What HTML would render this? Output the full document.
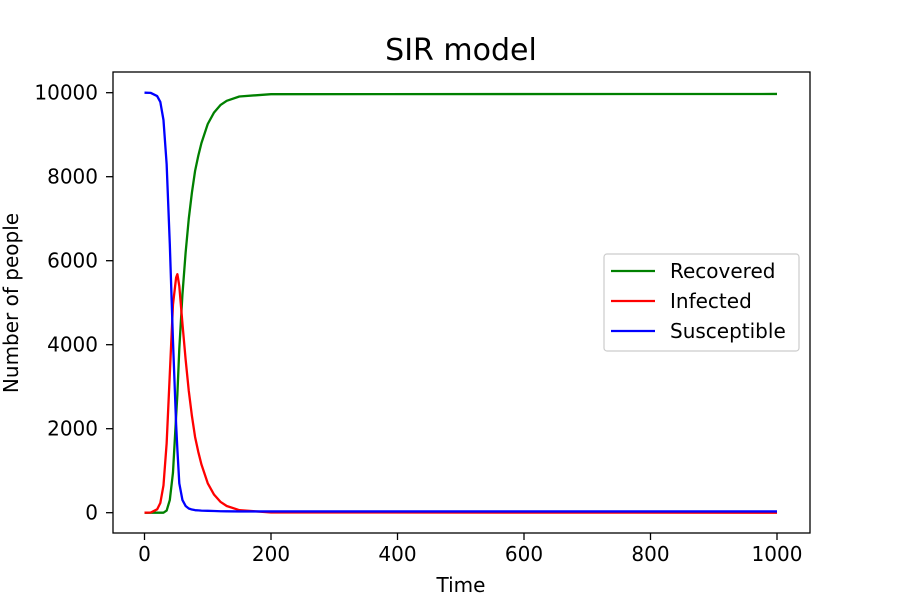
<!DOCTYPE html>
<html><head><meta charset="utf-8"><style>
body{margin:0;background:#fff;position:relative}
svg text{font-family:"DejaVu Sans","Liberation Sans",sans-serif;fill:#000}
</style></head><body>
<svg width="900" height="600">
<g id="marks"></g>
<g id="axes"></g>
</svg>
<script>
const times=[0,10,20,25,30,35,40,45,50,52,55,60,65,70,75,80,85,90,100,110,120,130,150,200,1000];
const susceptible=[10000,9995,9920,9780,9350,8300,6400,4100,2100,1500,700,300,160,100,75,60,55,50,45,40,35,33,30,30,30];
const infected=[0,5,80,230,650,1650,3300,4950,5600,5680,5400,4500,3650,2900,2300,1800,1450,1150,700,430,260,160,60,5,0];
const recovered=[0,0,0,0,0,50,300,950,2300,2820,3900,5200,6190,7000,7625,8140,8495,8800,9255,9530,9705,9807,9910,9965,9970];
const xTicks=[0,200,400,600,800,1000];
const yTicks=[0,2000,4000,6000,8000,10000];
const NS="http://www.w3.org/2000/svg";
const X=t=>144.5+t*0.6325;
const Y=v=>512.7-v*0.04200;
function mk(tag,attrs,parent,txt){const e=document.createElementNS(NS,tag);for(const k in attrs)e.setAttribute(k,attrs[k]);if(txt!==undefined)e.textContent=txt;parent.appendChild(e);return e;}
const marks=document.getElementById('marks'),axes=document.getElementById('axes');
const ser=[[recovered,'#008000','recovered-line'],[infected,'#ff0000','infected-line'],[susceptible,'#0000ff','susceptible-line']];
ser.forEach(([arr,c,n])=>{
 const p=mk('polyline',{points:times.map((t,i)=>X(t)+','+Y(arr[i])).join(' '),fill:'none',stroke:c,'stroke-width':2.3,'stroke-linejoin':'round'},marks);
 
 
});
const frame=mk('rect',{x:113,y:72,width:697,height:461,fill:'none',stroke:'#000','stroke-width':1.3},axes);


xTicks.forEach(t=>{
 mk('line',{x1:X(t),x2:X(t),y1:533,y2:540,stroke:'#000','stroke-width':1.3},axes);
 const l=mk('text',{x:X(t),y:561,'text-anchor':'middle','font-size':20},axes,String(t));
 
 
});
yTicks.forEach(v=>{
 mk('line',{x1:106,x2:113,y1:Y(v),y2:Y(v),stroke:'#000','stroke-width':1.3},axes);
 const l=mk('text',{x:98,y:Y(v)+7,'text-anchor':'end','font-size':20},axes,String(v));
 
 
});
</script>
<svg width="900" height="600" style="position:absolute;left:0;top:0">
<text x="461" y="60" text-anchor="middle" font-size="30">SIR model</text>
<text x="461" y="592" text-anchor="middle" font-size="20">Time</text>
<text x="18" y="303" text-anchor="middle" font-size="20" transform="rotate(-90 18 303)">Number of people</text>
<g>
<rect x="604" y="254" width="195" height="97" rx="3" fill="#fff" fill-opacity="0.8" stroke="#ccc" stroke-width="1.2"/>
<g><line x1="611" x2="655" y1="271" y2="271" stroke="#008000" stroke-width="2.3"/><text x="670" y="278" font-size="20">Recovered</text></g>
<g><line x1="611" x2="655" y1="301" y2="301" stroke="#ff0000" stroke-width="2.3"/><text x="670" y="308" font-size="20">Infected</text></g>
<g><line x1="611" x2="655" y1="331" y2="331" stroke="#0000ff" stroke-width="2.3"/><text x="670" y="338" font-size="20">Susceptible</text></g>
</g>
</svg>
</body></html>
